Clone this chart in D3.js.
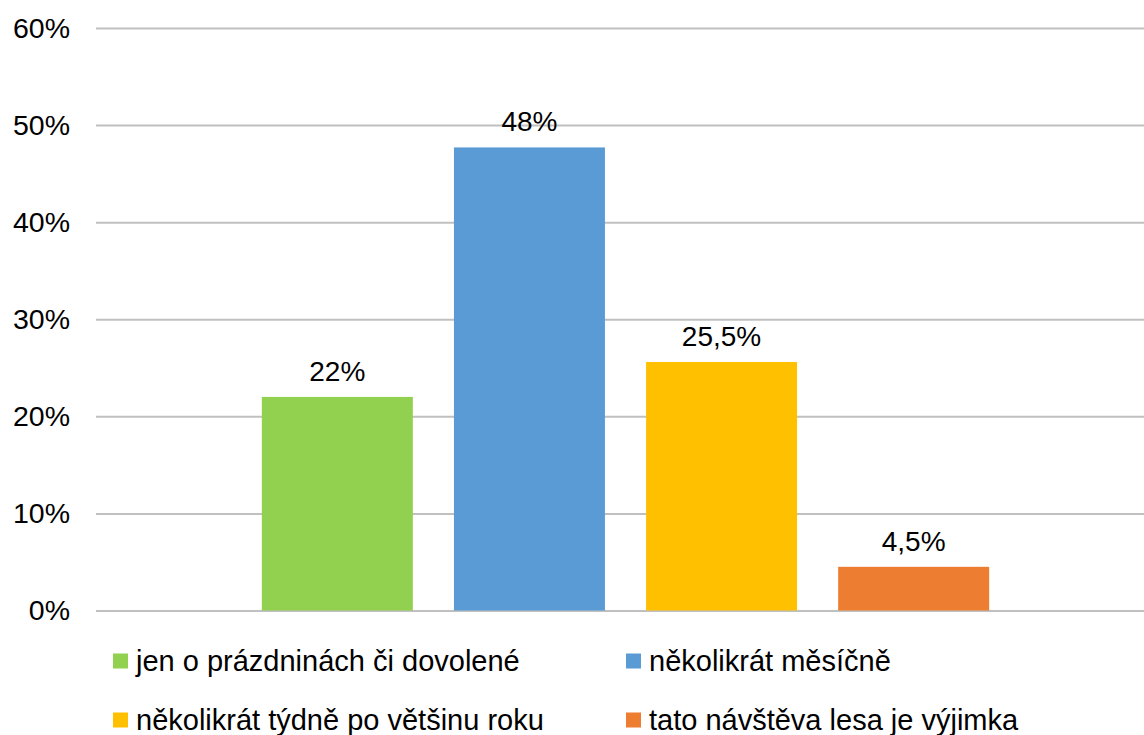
<!DOCTYPE html>
<html>
<head>
    <meta charset="utf-8">
    <title>Návštěva lesa</title>
    <script src="https://d3js.org/d3.v7.min.js"></script>
    <style>
        body { margin: 0; background: #fff; }
        svg { display: block; overflow: hidden; }
        .grid line { stroke: #c0c0c0; stroke-width: 2; }
        .grid .domain { display: none; }
        .axis text, .label, .legend text {
            font-family: "Liberation Sans", Arial, sans-serif;
            fill: #000;
        }
        .axis text { font-size: 28.5px; }
        .label { font-size: 28px; }
        .legend text { font-size: 29px; }
        .axis .domain, .axis line { display: none; }
    </style>
</head>
<body>
<div id="chart"></div>
<script>
    // data
    const series = [
        "jen o prázdninách či dovolené",
        "několikrát měsíčně",
        "několikrát týdně po většinu roku",
        "tato návštěva lesa je výjimka"
    ];
    const values = [22, 47.7, 25.6, 4.5];
    const valueLabels = ["22%", "48%", "25,5%", "4,5%"];
    const colors = ["#92d050", "#5b9bd5", "#ffc000", "#ed7d31"];
    const yTicks = [0, 0.1, 0.2, 0.3, 0.4, 0.5, 0.6];

    const width = 1144, height = 735;
    const plot = { left: 96, right: 1155, top: 28, bottom: 610.5 };

    const svg = d3.select("#chart").append("svg")
        .attr("width", width)
        .attr("height", height);

    const y = d3.scaleLinear().domain([0, 0.6]).range([plot.bottom, plot.top]);

    // one category, four series side by side
    const x0 = d3.scaleBand().domain([""]).range([plot.left, plot.right])
        .paddingInner(0).paddingOuter(0.228);
    const x1 = d3.scaleBand().domain(series).range([0, x0.bandwidth()])
        .paddingInner(0.214).paddingOuter(0);

    // gridlines
    svg.append("g")
        .attr("class", "grid")
        .attr("transform", `translate(${plot.left},0)`)
        .call(d3.axisRight(y).tickValues(yTicks).tickSize(plot.right - plot.left).tickFormat(""));

    // y axis labels
    svg.append("g")
        .attr("class", "axis")
        .attr("transform", `translate(${plot.left - 26},0)`)
        .call(d3.axisLeft(y).tickValues(yTicks).tickSize(0).tickPadding(0).tickFormat(d3.format(".0%")));

    const bars = svg.append("g").attr("transform", `translate(${x0("")},0)`);

    bars.selectAll("rect")
        .data(series)
        .join("rect")
        .attr("x", d => x1(d))
        .attr("width", x1.bandwidth())
        .attr("y", (d, i) => y(values[i] / 100))
        .attr("height", (d, i) => y(0) - y(values[i] / 100))
        .attr("fill", (d, i) => colors[i]);

    bars.selectAll(".label")
        .data(series)
        .join("text")
        .attr("class", "label")
        .attr("text-anchor", "middle")
        .attr("x", d => x1(d) + x1.bandwidth() / 2)
        .attr("y", (d, i) => y(values[i] / 100) - 16)
        .text((d, i) => valueLabels[i]);

    // legend, 2 columns
    const legCols = [113, 626];
    const legRows = [661, 720];
    const legend = svg.append("g").attr("class", "legend");
    const item = legend.selectAll("g")
        .data(series)
        .join("g")
        .attr("transform", (d, i) => `translate(${legCols[i % 2]},${legRows[Math.floor(i / 2)]})`);
    item.append("rect")
        .attr("x", 0).attr("y", -7.5)
        .attr("width", 15).attr("height", 15)
        .attr("fill", (d, i) => colors[i]);
    item.append("text")
        .attr("x", 23)
        .attr("y", 10)
        .text(d => d);
</script>
</body>
</html>
